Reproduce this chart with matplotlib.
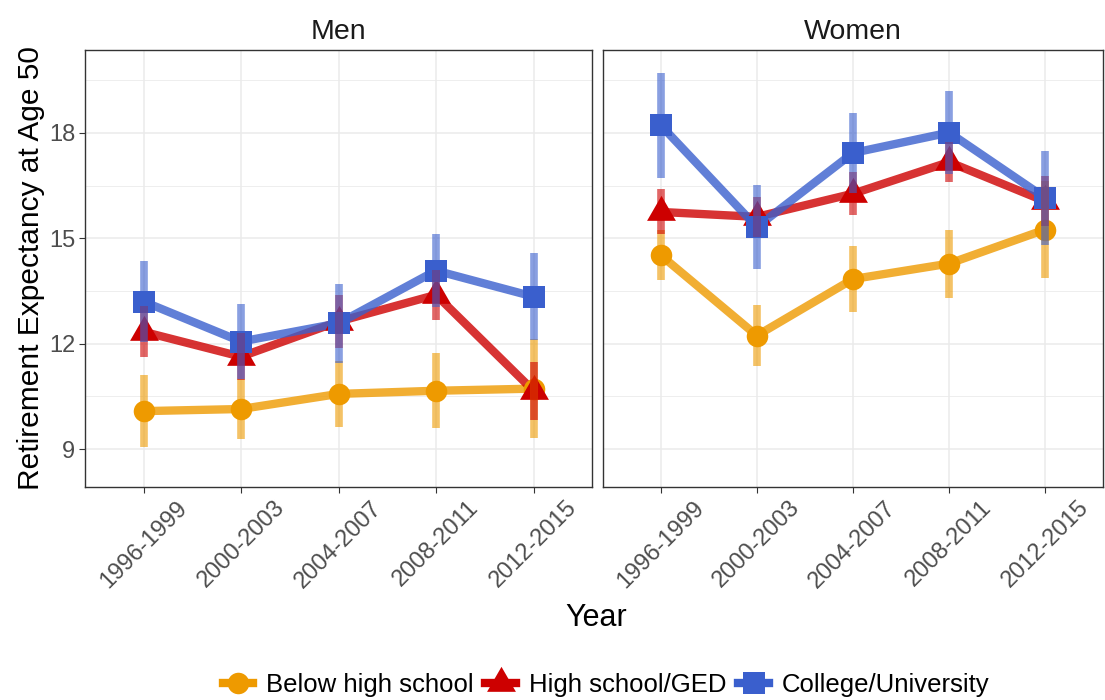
import matplotlib
matplotlib.use("Agg")
import matplotlib.pyplot as plt
from matplotlib.lines import Line2D
import numpy as np

plt.rcParams["font.family"] = ["Liberation Sans", "DejaVu Sans"]

periods = ["1996-1999", "2000-2003", "2004-2007", "2008-2011", "2012-2015"]
groups = ["Below high school", "High school/GED", "College/University"]
panels = ["Men", "Women"]

# point estimates
men_below = [10.08, 10.14, 10.57, 10.66, 10.72]
men_hs = [12.34, 11.63, 12.63, 13.39, 10.66]
men_college = [13.20, 12.06, 12.58, 14.08, 13.34]
women_below = [14.52, 12.23, 13.84, 14.28, 15.25]
women_hs = [15.75, 15.61, 16.27, 17.17, 16.05]
women_college = [18.22, 15.32, 17.43, 18.01, 16.15]

# half-widths of the intervals
men_below_err = [1.02, 0.86, 0.94, 1.07, 1.40]
men_hs_err = [0.73, 0.67, 0.76, 0.72, 0.82]
men_college_err = [1.16, 1.07, 1.13, 1.04, 1.24]
women_below_err = [0.72, 0.86, 0.93, 0.97, 1.38]
women_hs_err = [0.64, 0.57, 0.61, 0.58, 0.71]
women_college_err = [1.49, 1.20, 1.15, 1.19, 1.33]

values = {
    "Men": [men_below, men_hs, men_college],
    "Women": [women_below, women_hs, women_college],
}
errors = {
    "Men": [men_below_err, men_hs_err, men_college_err],
    "Women": [women_below_err, women_hs_err, women_college_err],
}

colors = ["#EE9A00", "#CD0000", "#3A5FCD"]
# equilateral triangle centred on its centroid
tri = [(0, 1), (-0.866, -0.5), (0.866, -0.5), (0, 1)]
markers = ["o", tri, "s"]
msizes = [15.5, 24, 16]

fig = plt.figure(figsize=(11.05, 7.0), dpi=100)
W, H = 1105, 700
boxes = [(85, 50, 592, 487), (603, 50, 1103, 487)]

x = np.arange(1, len(periods) + 1)
yticks = [9, 12, 15, 18]
yminor = [10.5, 13.5, 16.5, 19.5]

axes = []
for i, (panel, (l, t, r, b)) in enumerate(zip(panels, boxes)):
    ax = fig.add_axes([l / W, 1 - b / H, (r - l) / W, (b - t) / H])
    axes.append(ax)
    ax.set_xlim(0.4, 5.6)
    ax.set_ylim(7.92, 20.36)
    ax.set_xticks(x)
    ax.set_xticklabels(periods, rotation=45, ha="center", va="top",
                       fontsize=17, color="#4D4D4D")
    ax.set_yticks(yticks)
    ax.set_yticks(yminor, minor=True)
    ax.tick_params(axis="both", which="major", length=4, width=0.8,
                   color="#333333", pad=3)
    ax.tick_params(axis="y", which="minor", length=0)
    if i == 0:
        ax.set_yticklabels([str(v) for v in yticks], fontsize=17, color="#4D4D4D")
    else:
        ax.tick_params(axis="y", which="both", left=False, labelleft=False)
    ax.grid(True, which="major", color="#EBEBEB", linewidth=1.1)
    ax.grid(True, which="minor", axis="y", color="#EBEBEB", linewidth=0.6)
    ax.set_axisbelow(True)
    for s in ax.spines.values():
        s.set_color("#333333")
        s.set_linewidth(1.0)
    ax.set_title(panel, fontsize=20.5, pad=8, color="#1A1A1A")

    vals = values[panel]
    errs = errors[panel]
    # connecting lines
    for g in range(3):
        ax.plot(x, vals[g], color=colors[g], linewidth=6, alpha=0.8,
                solid_capstyle="butt", zorder=2)
    # points
    for g in range(3):
        ax.plot(x, vals[g], linestyle="none", marker=markers[g],
                markersize=msizes[g], color=colors[g], markeredgewidth=0, zorder=3)
    # intervals
    for g in range(3):
        lo = np.array(vals[g]) - np.array(errs[g])
        hi = np.array(vals[g]) + np.array(errs[g])
        ax.vlines(x, lo, hi, color=colors[g], linewidth=5.5, alpha=0.6, zorder=4)

axes[0].set_ylabel("Retirement Expectancy at Age 50", fontsize=21.5, labelpad=3)
fig.text(596 / W, 1 - 618 / H, "Year", ha="center", va="center", fontsize=22)

handles = [Line2D([0], [0], color=colors[g], marker=markers[g], markersize=msizes[g],
                  linewidth=6, markeredgewidth=0) for g in range(3)]
fig.legend(handles, groups, loc="center", bbox_to_anchor=(606 / W, 1 - 685 / H),
           ncol=3, frameon=False, fontsize=18.5, handlelength=1.2,
           handletextpad=0.5, columnspacing=0.45)

fig.savefig("out.png", dpi=100)
